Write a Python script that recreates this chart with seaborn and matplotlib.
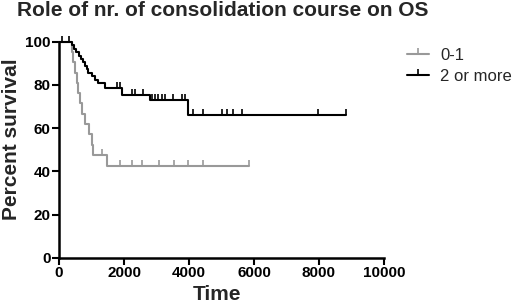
import numpy as np
import pandas as pd
import matplotlib
matplotlib.use("Agg")
import matplotlib.pyplot as plt
import seaborn as sns
from matplotlib.lines import Line2D

# ---------------- data ----------------
# step curve points (time, percent survival after the step)
low_time = [0, 390, 430, 490, 540, 595, 640, 700, 800, 930, 1000, 1056, 1467, 5856]
low_surv = [100, 95.2, 90.5, 85.7, 81.0, 76.2, 71.4, 66.7, 61.9, 57.1, 52.4, 47.6, 42.5, 42.5]
low_cens_time = [1313, 1877, 2236, 2544, 3087, 3538, 3979, 4421, 5856]
low_cens_surv = [47.6, 42.5, 42.5, 42.5, 42.5, 42.5, 42.5, 42.5, 42.5]

high_time = [0, 390, 450, 520, 600, 680, 750, 800, 850, 900, 1000, 1100, 1210, 1415,
             1928, 2800, 3980, 8830]
high_surv = [100, 98.4, 96.8, 95.2, 93.6, 92.0, 90.4, 88.8, 87.2, 85.6, 84.0, 82.4, 80.8,
             78.6, 75.2, 72.8, 65.9, 65.9]
high_cens_time = [100, 300, 1774, 1877, 2236, 2338, 2595, 2852, 2954, 3056, 3159, 3262,
                  3518, 3774, 3877, 4133, 4440, 5010, 5160, 5360, 5620, 7970, 8830]
high_cens_surv = [100, 100, 78.6, 78.6, 75.2, 75.2, 75.2, 72.8, 72.8, 72.8, 72.8, 72.8,
                  72.8, 72.8, 72.8, 65.9, 65.9, 65.9, 65.9, 65.9, 65.9, 65.9, 65.9]

groups = ["0-1", "2 or more"]
colors = {"0-1": "#999999", "2 or more": "#000000"}
x_ticks = [0, 2000, 4000, 6000, 8000, 10000]
y_ticks = [0, 20, 40, 60, 80, 100]

# ---------------- figure ----------------
sns.set_theme(style="white")
plt.rcParams['font.family'] = ['Liberation Sans', 'DejaVu Sans']

fig = plt.figure(figsize=(5.2, 3.05), dpi=100)
ax = fig.add_axes([59 / 520, 47.3 / 305, 325 / 520, 216 / 305])

curves = [
    ("0-1", low_time, low_surv, low_cens_time, low_cens_surv),
    ("2 or more", high_time, high_surv, high_cens_time, high_cens_surv),
]
for name, t, s, ct, cs in curves:
    df = pd.DataFrame({"Time": t, "Survival": s})
    sns.lineplot(data=df, x="Time", y="Survival", ax=ax, estimator=None, sort=False,
                 drawstyle="steps-post", color=colors[name], linewidth=1.5, clip_on=False)
    dc = pd.DataFrame({"Time": ct, "Survival": cs})
    sns.scatterplot(data=dc, x="Time", y="Survival", ax=ax, marker=2, s=18,
                    color=colors[name], linewidth=1.2, clip_on=False, zorder=3)

ax.set_xlim(0, 10000)
ax.set_ylim(0, 100)
ax.set_xticks(x_ticks)
ax.set_yticks(y_ticks)
ax.set_xticklabels([str(v) for v in x_ticks], fontweight="bold", fontsize=11)
ax.set_yticklabels([str(v) for v in y_ticks], fontweight="bold", fontsize=11)
ax.tick_params(axis="both", direction="out", length=5, width=1.5, color="black",
               pad=1, labelcolor="black", bottom=True, left=True)

for side in ["top", "right"]:
    ax.spines[side].set_visible(False)
for side in ["left", "bottom"]:
    ax.spines[side].set_color("black")
    ax.spines[side].set_linewidth(1.8)

ax.set_xlabel("Time", fontweight="bold", fontsize=15)
ax.set_ylabel("Percent survival", fontweight="bold", fontsize=15)
ax.xaxis.set_label_coords(0.486, -0.125)
ax.yaxis.set_label_coords(-0.118, 0.55)

fig.text(17 / 520, 1 - 1 / 305, "Role of nr. of consolidation course on OS",
         fontweight="bold", fontsize=15, ha="left", va="top")

handles = [Line2D([0], [0], color=colors[g], linewidth=1.5, marker=2,
                  markersize=4, markeredgewidth=1.2) for g in groups]
fig.legend(handles, groups, loc="upper left", bbox_to_anchor=(407 / 520, 1 - 48 / 305),
           frameon=False, fontsize=12, handlelength=1.3, handletextpad=0.7,
           labelspacing=0.35, borderaxespad=0, borderpad=0)

fig.savefig("out.png", dpi=100)
